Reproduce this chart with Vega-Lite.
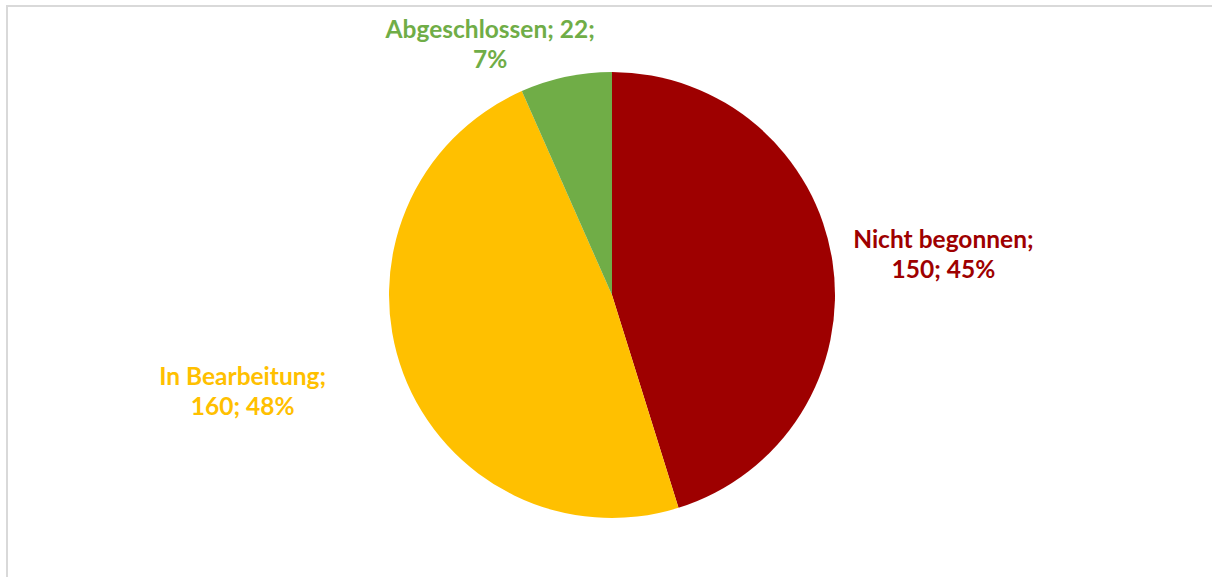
{
  "$schema": "https://vega.github.io/schema/vega-lite/v6.json",
  "width": 1210,
  "height": 578,
  "autosize": {"type": "none"},
  "padding": {"left": 7, "top": 6, "right": -5, "bottom": -7},
  "background": "white",
  "view": {"stroke": "#d9d9d9", "strokeWidth": 2, "fill": "white"},
  "data": {"values": [
    {"name": "Nicht begonnen", "value": 150, "label": "Nicht begonnen;\n150; 45%", "idx": 1},
    {"name": "In Bearbeitung", "value": 160, "label": "In Bearbeitung;\n160; 48%", "idx": 2},
    {"name": "Abgeschlossen", "value": 22, "label": "Abgeschlossen; 22;\n7%", "idx": 3}
  ]},
  "encoding": {
    "theta": {"field": "value", "type": "quantitative", "stack": true},
    "order": {"field": "idx", "type": "ordinal"},
    "color": {"field": "name", "type": "nominal", "legend": null,
      "scale": {"domain": ["Nicht begonnen", "In Bearbeitung", "Abgeschlossen"], "range": ["#9E0000", "#FFC000", "#70AD47"]}}
  },
  "layer": [
    {"mark": {"type": "arc", "radius": 223}},
    {"mark": {"type": "text", "radius": 315, "dx": 20, "dy": -6, "font": "Lato", "fontWeight": "bold", "fontSize": 24.5, "lineBreak": "\n", "lineHeight": 30, "align": "center", "baseline": "middle"},
     "encoding": {"text": {"condition": {"test": "datum.name === 'Nicht begonnen'", "field": "label"}, "value": ""}}},
    {"mark": {"type": "text", "radius": 370, "dx": -23, "dy": -47, "font": "Lato", "fontWeight": "bold", "fontSize": 24.5, "lineBreak": "\n", "lineHeight": 30, "align": "center", "baseline": "middle"},
     "encoding": {"text": {"condition": {"test": "datum.name === 'In Bearbeitung'", "field": "label"}, "value": ""}}},
    {"mark": {"type": "text", "radius": 270, "dx": -66, "dy": 0, "font": "Lato", "fontWeight": "bold", "fontSize": 24.5, "lineBreak": "\n", "lineHeight": 30, "align": "center", "baseline": "middle"},
     "encoding": {"text": {"condition": {"test": "datum.name === 'Abgeschlossen'", "field": "label"}, "value": ""}}}
  ]
}
